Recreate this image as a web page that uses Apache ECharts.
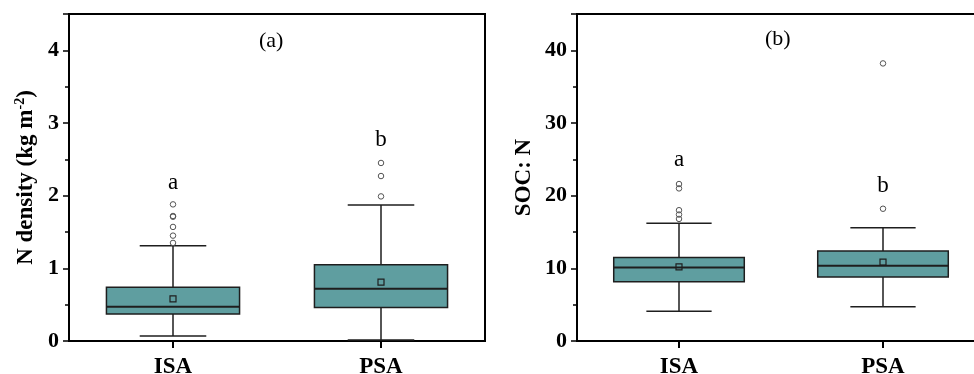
<!DOCTYPE html>
<html><head><meta charset="utf-8">
<script src="https://cdn.jsdelivr.net/npm/echarts@6/dist/echarts.min.js"></script>
<style>html,body{margin:0;padding:0;background:#fff}#c{width:974px;height:374px}</style>
</head><body><div id="c"></div>
<script>
const categories = ['ISA', 'PSA'];
// [lower whisker, Q1, median, Q3, upper whisker]
const nDensityBox = [[0.07, 0.37, 0.47, 0.74, 1.31], [0.015, 0.46, 0.72, 1.05, 1.87]];
const nDensityMean = [0.58, 0.81];
const nDensityOutliers = [[1.35, 1.45, 1.57, 1.71, 1.72, 1.88], [1.99, 2.27, 2.45]];
const nDensityLetters = ['a', 'b'];
const nDensityLetterY = [2.18, 2.77];
const socnBox = [[4.1, 8.15, 10.1, 11.5, 16.2], [4.7, 8.8, 10.35, 12.4, 15.6]];
const socnMean = [10.2, 10.85];
const socnOutliers = [[16.8, 17.4, 18.0, 21.0, 21.6], [18.2, 38.2]];
const socnLetters = ['a', 'b'];
const socnLetterY = [24.9, 21.4];
const panelTitles = ['(a)', '(b)'];

const FONT = '"Liberation Serif", "Times New Roman", serif';
const FILL = '#5F9EA0';
const DARK = '#1e1e1e';

function renderBox(params, api) {
  const i = api.value(0);
  const lo = api.coord([i, api.value(1)]);
  const q1 = api.coord([i, api.value(2)]);
  const md = api.coord([i, api.value(3)]);
  const q3 = api.coord([i, api.value(4)]);
  const hi = api.coord([i, api.value(5)]);
  const band = api.size([1, 0])[0];
  const bw = band * 0.64, cw = band * 0.32;
  const cx = lo[0];
  const ls = { stroke: DARK, lineWidth: 1.5, fill: null };
  return { type: 'group', children: [
    { type: 'line', shape: { x1: cx, y1: lo[1], x2: cx, y2: q1[1] }, style: ls },
    { type: 'line', shape: { x1: cx, y1: q3[1], x2: cx, y2: hi[1] }, style: ls },
    { type: 'line', shape: { x1: cx - cw / 2, y1: lo[1], x2: cx + cw / 2, y2: lo[1] }, style: ls },
    { type: 'line', shape: { x1: cx - cw / 2, y1: hi[1], x2: cx + cw / 2, y2: hi[1] }, style: ls },
    { type: 'rect', shape: { x: cx - bw / 2, y: q3[1], width: bw, height: q1[1] - q3[1] }, style: { fill: FILL, stroke: DARK, lineWidth: 1.5 } },
    { type: 'line', shape: { x1: cx - bw / 2, y1: md[1], x2: cx + bw / 2, y2: md[1] }, style: { stroke: DARK, lineWidth: 2 } }
  ]};
}

function yAxis(idx, max, interval, name, nameGap, rich) {
  return {
    type: 'value', gridIndex: idx, min: 0, max: max, interval: interval,
    name: name, nameLocation: 'middle', nameGap: nameGap, nameRotate: 90,
    nameTextStyle: { fontFamily: FONT, fontWeight: 'bold', fontSize: 23, color: '#000', rich: rich },
    axisLine: { show: true, lineStyle: { color: '#000', width: 2 } },
    axisTick: { show: true, inside: false, length: 6, lineStyle: { color: '#000', width: 1.5 } },
    minorTick: { show: true, splitNumber: 2, length: 4, lineStyle: { color: '#000', width: 1.5 } },
    splitLine: { show: false },
    axisLabel: { fontFamily: FONT, fontWeight: 'bold', fontSize: 22, color: '#000', margin: 10, showMaxLabel: false }
  };
}
function xAxis(idx) {
  return {
    type: 'category', gridIndex: idx, data: categories, boundaryGap: true,
    axisLine: { show: true, lineStyle: { color: '#000', width: 2 } },
    axisTick: { show: true, alignWithLabel: true, length: 7, lineStyle: { color: '#000', width: 2 } },
    splitLine: { show: false },
    axisLabel: { fontFamily: FONT, fontWeight: 'bold', fontSize: 23, color: '#000', margin: 15 }
  };
}
function series(idx, box, mean, outliers, letters, letterY) {
  return [
    { type: 'custom', xAxisIndex: idx, yAxisIndex: idx, renderItem: renderBox,
      data: box.map((b, i) => [i].concat(b)), encode: { x: 0, y: [1, 2, 3, 4, 5] }, z: 2 },
    { type: 'scatter', xAxisIndex: idx, yAxisIndex: idx, symbol: 'rect', symbolSize: 6, z: 3,
      itemStyle: { color: 'rgba(0,0,0,0)', borderColor: DARK, borderWidth: 1.2, opacity: 1 },
      data: mean.map((m, i) => [i, m]) },
    { type: 'scatter', xAxisIndex: idx, yAxisIndex: idx, symbol: 'circle', symbolSize: 5.5, z: 3,
      itemStyle: { color: 'rgba(0,0,0,0)', borderColor: '#555', borderWidth: 1, opacity: 1 },
      data: outliers.flatMap((arr, i) => arr.map(v => [i, v])) },
    { type: 'scatter', xAxisIndex: idx, yAxisIndex: idx, symbolSize: 0, z: 4,
      itemStyle: { opacity: 1 },
      label: { show: true, position: 'inside', formatter: p => p.name, fontFamily: FONT, fontSize: 23, color: '#000', textBorderWidth: 0 },
      data: letters.map((l, i) => ({ name: l, value: [i, letterY[i]] })) }
  ];
}

const chart = echarts.init(document.getElementById('c'), null, { renderer: 'canvas' });
chart.setOption({
  animation: false,
  backgroundColor: '#fff',
  title: [
    { text: panelTitles[0], left: 254, top: 25, textStyle: { fontFamily: FONT, fontWeight: 'normal', fontSize: 22, color: '#000' } },
    { text: panelTitles[1], left: 760, top: 23, textStyle: { fontFamily: FONT, fontWeight: 'normal', fontSize: 22, color: '#000' } }
  ],
  grid: [
    { left: 69, right: 489, top: 14, bottom: 33, show: true, borderColor: '#000', borderWidth: 2, backgroundColor: 'transparent', outerBoundsMode: 'none', containLabel: false },
    { left: 577, right: -11, top: 14, bottom: 33, show: true, borderColor: '#000', borderWidth: 2, backgroundColor: 'transparent', outerBoundsMode: 'none', containLabel: false }
  ],
  xAxis: [xAxis(0), xAxis(1)],
  yAxis: [
    yAxis(0, 4.5, 1, '{b|N density (kg m}{sup|-2}{b|)}', 30, {
      b: { fontFamily: FONT, fontWeight: 'bold', fontSize: 23, color: '#000', lineHeight: 26 },
      sup: { fontFamily: FONT, fontWeight: 'bold', fontSize: 14, color: '#000', verticalAlign: 'top', lineHeight: 26, padding: [0, 0, 10, 0] }
    }),
    yAxis(1, 45, 10, 'SOC: N', 41, null)
  ],
  series: [].concat(
    series(0, nDensityBox, nDensityMean, nDensityOutliers, nDensityLetters, nDensityLetterY),
    series(1, socnBox, socnMean, socnOutliers, socnLetters, socnLetterY)
  )
});
</script>
</body></html>
